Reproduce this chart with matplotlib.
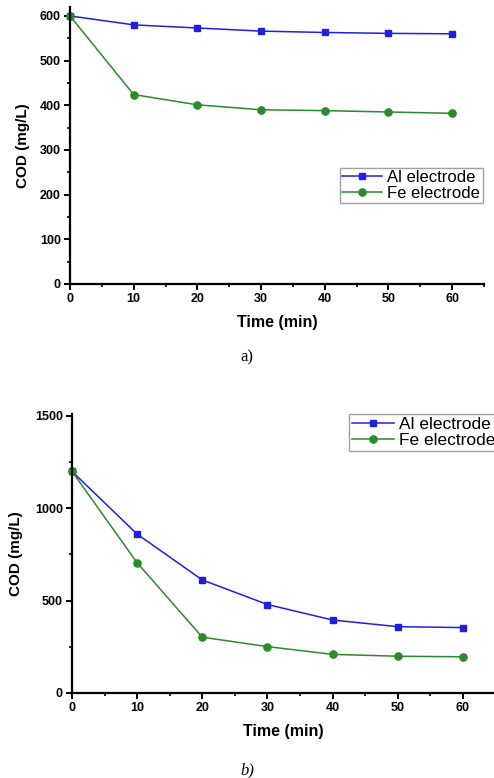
import matplotlib
matplotlib.use("Agg")
import matplotlib.pyplot as plt
from matplotlib.ticker import MultipleLocator

plt.rcParams['font.family'] = ['Liberation Sans', 'DejaVu Sans']

time_min = [0, 10, 20, 30, 40, 50, 60]

# a) COD, mg/L
al_a = [600, 580, 573, 566, 563, 561, 560]
fe_a = [600, 424, 401, 390, 388, 385, 382]

# b) COD, mg/L
al_b = [1200, 860, 612, 479, 395, 359, 354]
fe_b = [1200, 705, 302, 251, 209, 199, 196]

blue = '#1f1fe0'
green = '#2b8a2b'


def style_axes(ax, ymaj, ymin):
	for s in ['top', 'right']:
		ax.spines[s].set_visible(False)
	for s in ['left', 'bottom']:
		ax.spines[s].set_linewidth(1.6)
	ax.xaxis.set_major_locator(MultipleLocator(10))
	ax.xaxis.set_minor_locator(MultipleLocator(5))
	ax.yaxis.set_major_locator(MultipleLocator(ymaj))
	ax.yaxis.set_minor_locator(MultipleLocator(ymin))
	ax.tick_params(which='major', direction='out', length=4, width=1.4, labelsize=9, pad=2.5)
	ax.tick_params(which='minor', direction='out', length=2.5, width=1.2)
	for lab in ax.get_xticklabels() + ax.get_yticklabels():
		lab.set_fontweight('bold')
	ax.set_xlabel("Time (min)", fontsize=11.5, fontweight='bold', labelpad=7)
	ax.set_ylabel("COD (mg/L)", fontsize=11, fontweight='bold')


def plot_panel(ax, al, fe):
	ax.plot(time_min, al, color=blue, lw=1.1, marker='s', ms=5, label='Al electrode', clip_on=False)
	ax.plot(time_min, fe, color=green, lw=1.1, marker='o', ms=5.2, label='Fe electrode', clip_on=False)


fig = plt.figure(figsize=(4.94, 7.78), dpi=100)

ax1 = fig.add_axes([0.1417, 0.635, 0.838, 0.356])
plot_panel(ax1, al_a, fe_a)
ax1.set_xlim(0, 65)
ax1.set_ylim(0, 620)
style_axes(ax1, 100, 50)
ax1.yaxis.set_label_coords(-0.097, 0.5)
leg1 = ax1.legend(loc='upper left', bbox_to_anchor=(0.652, 0.42), fontsize=12,
	frameon=True, fancybox=False, edgecolor='#888888', handlelength=2.4,
	handletextpad=0.3, borderpad=0.15, labelspacing=0.05, borderaxespad=0)
leg1.get_frame().set_linewidth(1.0)

ax2 = fig.add_axes([0.1457, 0.1093, 0.8575, 0.3584])
plot_panel(ax2, al_b, fe_b)
ax2.set_xlim(0, 65)
ax2.set_ylim(0, 1510)
style_axes(ax2, 500, 250)
ax2.yaxis.set_label_coords(-0.116, 0.5)
leg2 = ax2.legend(loc='upper left', bbox_to_anchor=(0.655, 1.0), fontsize=12.5,
	frameon=True, fancybox=False, edgecolor='#888888', handlelength=2.4,
	handletextpad=0.3, borderpad=0.15, labelspacing=0.05, borderaxespad=0)
leg2.get_frame().set_linewidth(1.0)

fig.text(0.5, 1 - 357 / 778, "a)", ha='center', va='center', fontsize=12, family='Liberation Serif')
fig.text(0.5, 1 - 770 / 778, "b)", ha='center', va='center', fontsize=12, family='Liberation Serif', style='italic')

fig.savefig("out.png", dpi=100)
